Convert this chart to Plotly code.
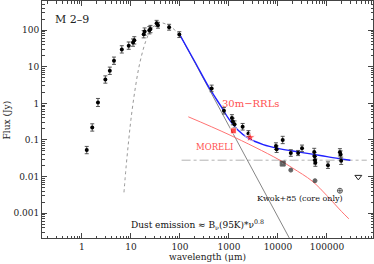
import plotly.graph_objects as go

# ---------------- data ----------------
# near/mid/far-IR photometry (um, Jy, error in dex)
ir_lam = [1.25, 1.62, 2.12, 3.0, 3.7, 4.5, 6.5, 9.0, 11.0, 11.7, 18.2, 19.0, 23.7, 25.0, 33.4, 35.6, 60.0, 97.0]
ir_flux = [0.053, 0.22, 1.06, 4.5, 7.8, 14.7, 30, 38, 46, 53, 78, 92, 100, 108, 155, 137, 121, 76]
ir_err = [0.1, 0.1, 0.11, 0.1, 0.1, 0.1, 0.1, 0.1, 0.1, 0.1, 0.1, 0.1, 0.1, 0.1, 0.08, 0.08, 0.08, 0.08]

# sub-mm / mm / cm photometry
mm_lam = [443, 790, 1150, 1200, 1300, 1900, 2500, 9100, 9400, 12500, 18300, 25800, 31000,
          55000, 56000, 57000, 58000, 105000, 184000, 190000, 195000]
mm_flux = [2.57, 0.63, 0.40, 0.32, 0.27, 0.23, 0.15, 0.068, 0.056, 0.10, 0.044, 0.044, 0.059,
           0.047, 0.036, 0.028, 0.024, 0.0205, 0.046, 0.040, 0.027]
mm_err = [0.09, 0.09, 0.09, 0.09, 0.09, 0.09, 0.08, 0.09, 0.09, 0.1, 0.09, 0.07, 0.09,
          0.1, 0.1, 0.1, 0.1, 0.09, 0.1, 0.1, 0.1]

# red points (30m-RRLs / MORELI)
red_lam = [1230, 2700]
red_flux = [0.178, 0.117]

# Kwok+85 (core only)
kw_lam = [12500, 18300, 57000, 184000]
kw_flux = [0.0226, 0.015, 0.0077, 0.0041]
lim_lam = [437000]
lim_flux = [0.0098]

# modified black body, dust emission (Wien side + peak, dotted)
bb_lam = [7.2, 8, 9, 10, 12, 15, 20, 25, 30, 40, 50, 70, 100]
bb_flux = [0.0037, 0.02, 0.1, 0.37, 2.2, 12, 50, 98, 135, 160, 150, 115, 74]
# Rayleigh-Jeans tail (solid)
rj_lam = [100, 1000, 20000]
rj_flux = [74, 0.25, 0.00014]

# total model (blue)
tot_lam = [100, 200, 400, 700, 1000, 1500, 2500, 5000, 10000, 20000, 50000, 100000, 300000]
tot_flux = [74, 14, 2.6, 0.8, 0.37, 0.19, 0.11, 0.075, 0.059, 0.05, 0.041, 0.035, 0.028]

# ionized gas model (red)
ion_lam = [148, 1000, 10000, 20000, 50000, 100000, 200000, 280000]
ion_flux = [0.43, 0.14, 0.03, 0.017, 0.0075, 0.003, 0.0011, 0.0007]

# horizontal dash-dot level
lvl_lam = [108, 650000]
lvl_flux = [0.028, 0.028]

x_ticks = [1, 10, 100, 1000, 10000, 100000]
y_ticks = [0.001, 0.01, 0.1, 1, 10, 100]

# ---------------- figure ----------------
FONT = "DejaVu Serif"


def errs(flux, dex):
    up = [f * 10 ** d - f for f, d in zip(flux, dex)]
    dn = [f - f * 10 ** (-d) for f, d in zip(flux, dex)]
    return up, dn


fig = go.Figure()

fig.add_trace(go.Scatter(x=lvl_lam, y=lvl_flux, mode="lines",
                         line=dict(color="#a0a0a0", width=0.8, dash="dashdot")))
fig.add_trace(go.Scatter(x=bb_lam, y=bb_flux, mode="lines", line_shape="spline",
                         line=dict(color="#999999", width=1, dash="dot")))
fig.add_trace(go.Scatter(x=rj_lam, y=rj_flux, mode="lines",
                         line=dict(color="#666666", width=0.8)))
fig.add_trace(go.Scatter(x=ion_lam, y=ion_flux, mode="lines", line_shape="spline",
                         line=dict(color="#ff7373", width=1)))
fig.add_trace(go.Scatter(x=tot_lam, y=tot_flux, mode="lines", line_shape="spline",
                         line=dict(color="#2020ff", width=1.4)))

up, dn = errs(ir_flux, ir_err)
fig.add_trace(go.Scatter(x=ir_lam, y=ir_flux, mode="markers",
                         marker=dict(color="black", size=4),
                         error_y=dict(type="data", array=up, arrayminus=dn,
                                      color="#444444", thickness=0.9, width=2)))
up, dn = errs(mm_flux, mm_err)
fig.add_trace(go.Scatter(x=mm_lam, y=mm_flux, mode="markers",
                         marker=dict(color="black", size=4),
                         error_y=dict(type="data", array=up, arrayminus=dn,
                                      color="#444444", thickness=0.9, width=2)))
fig.add_trace(go.Scatter(x=red_lam, y=red_flux, mode="markers",
                         marker=dict(color="#ff0000", size=[6, 8], symbol=["square", "star"])))
fig.add_trace(go.Scatter(x=kw_lam, y=kw_flux, mode="markers",
                         marker=dict(color="#222222", size=[5, 4, 4, 5],
                                     symbol=["square-dot", "circle", "circle", "circle-cross-open"],
                                     line=dict(color="#222222", width=1))))
fig.add_trace(go.Scatter(x=lim_lam, y=lim_flux, mode="markers",
                         marker=dict(color="#222222", size=6, symbol="triangle-down-open",
                                     line=dict(color="#222222", width=1))))

ann = dict(showarrow=False, xref="paper", yref="paper", xanchor="center", yanchor="middle")
fig.add_annotation(text="M 2\u20139", x=0.091, y=0.924, font=dict(family=FONT, size=11, color="#222"), **ann)
fig.add_annotation(text="30m\u2212RRLs", x=0.631, y=0.569, font=dict(family=FONT, size=10, color="#ff5050"), **ann)
fig.add_annotation(text="MORELI", x=0.52, y=0.383, font=dict(family=FONT, size=8.5, color="#ff5050"), **ann)
fig.add_annotation(text="Kwok+85 (core only)", x=0.779, y=0.168, font=dict(family=FONT, size=8, color="#111"), **ann)
fig.add_annotation(text="Dust emission \u2248 B<sub>\u03bd</sub>(95K)*\u03bd<sup>0.8</sup>", x=0.471, y=0.058,
                   font=dict(family=FONT, size=9, color="#111"), **ann)
# axis titles
fig.add_annotation(text="wavelength (\u03bcm)", x=0.5, y=-0.082,
                   font=dict(family=FONT, size=9, color="#222"), **ann)
fig.add_annotation(text="Flux (Jy)", x=-0.106, y=0.5, textangle=-90,
                   font=dict(family=FONT, size=9, color="#222"), **ann)

axis_common = dict(type="log", ticks="inside", ticklen=5, tickwidth=0.8, tickcolor="#444",
                   mirror="allticks", showline=True, linecolor="#444", linewidth=1,
                   showgrid=False, zeroline=False, exponentformat="none",
                   tickfont=dict(family=FONT, size=9, color="#222"),
                   minor=dict(ticks="inside", ticklen=2.5, tickcolor="#444", tickwidth=0.7,
                              dtick="D1", showgrid=False),
                   automargin=False)

fig.update_layout(
    width=374, height=264,
    margin=dict(l=42, r=1, t=1, b=26),
    plot_bgcolor="white", paper_bgcolor="white",
    showlegend=False,
    xaxis=dict(range=[-0.816, 5.94], tickmode="array", tickvals=x_ticks,
               ticktext=[str(v) for v in x_ticks], **axis_common),
    yaxis=dict(range=[-3.68, 2.8], tickmode="array", tickvals=y_ticks,
               ticktext=["0.001", "0.01", "0.1", "1", "10", "100"], **axis_common),
)

fig.write_html("out.html", config={"displayModeBar": False},
               post_script="document.body.style.margin='0';document.body.style.padding='0';"
                           "document.body.style.overflow='hidden';")
